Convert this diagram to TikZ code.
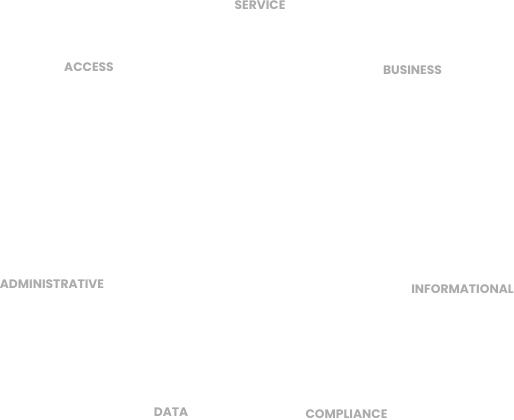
\documentclass[tikz,border=0pt]{standalone}
\usepackage{fontspec}
\setmainfont{Poppins}
\definecolor{labelgray}{HTML}{ABABAB}
\begin{document}
\begin{tikzpicture}[x=1pt,y=-1pt,
  lbl/.style={inner sep=0pt, anchor=center, text=labelgray, font=\fontsize{12.3}{14}\selectfont\bfseries}]
\useasboundingbox (0,0) rectangle (514,420);
\node[lbl] (service) at (260,5.5) {SERVICE};
\node[lbl] (access) at (89,67) {ACCESS};
\node[lbl] (business) at (412.5,70) {BUSINESS};
\node[lbl] (admin) at (52,284) {ADMINISTRATIVE};
\node[lbl] (info) at (462.5,289) {INFORMATIONAL};
\node[lbl] (data) at (171,412.5) {DATA};
\node[lbl] (compliance) at (346.5,414.5) {COMPLIANCE};
\end{tikzpicture}
\end{document}
